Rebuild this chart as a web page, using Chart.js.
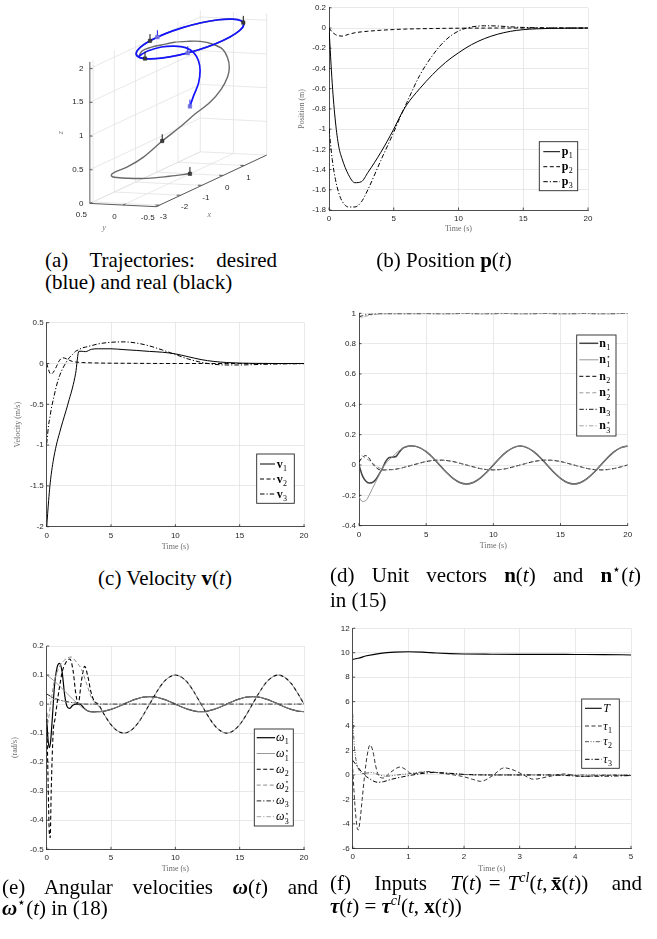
<!DOCTYPE html>
<html><head><meta charset="utf-8"><title>Trajectory results</title>
<script src="https://cdn.jsdelivr.net/npm/chart.js@4.4.1/dist/chart.umd.min.js"></script>
<style>
html,body{margin:0;padding:0;background:#fff}
body{position:relative;width:657px;height:939px;overflow:hidden}
canvas{position:absolute;display:block}
.cap{position:absolute;font-family:"Liberation Serif","Times New Roman",serif;font-size:21px;line-height:22px;color:#000;white-space:nowrap}
.just{text-align:justify;text-align-last:justify;white-space:normal}
.cap sup{font-size:14px;line-height:0;vertical-align:8px}
</style></head>
<body>
<canvas id="ca" width="300" height="245" style="left:0;top:0"></canvas>
<canvas id="cb" width="320" height="240" style="left:280px;top:0"></canvas>
<canvas id="cc" width="320" height="260" style="left:0;top:300px"></canvas>
<canvas id="cd" width="327" height="260" style="left:330px;top:300px"></canvas>
<canvas id="ce" width="320" height="260" style="left:0;top:620px"></canvas>
<canvas id="cf" width="327" height="270" style="left:330px;top:610px"></canvas>

<div class="cap just" style="left:45px;top:249px;width:232px">(a) Trajectories: desired</div>
<div class="cap" style="left:45px;top:271px">(blue) and real (black)</div>
<div class="cap" style="left:344px;top:249px;width:200px;text-align:center">(b) Position <b>p</b>(<i>t</i>)</div>
<div class="cap" style="left:65px;top:567px;width:200px;text-align:center">(c) Velocity <b>v</b>(<i>t</i>)</div>
<div class="cap just" style="left:330px;top:564px;width:311px">(d) Unit vectors <b>n</b>(<i>t</i>) and <b>n</b><sup>⋆</sup>(<i>t</i>)</div>
<div class="cap" style="left:330px;top:589px">in (15)</div>
<div class="cap just" style="left:2px;top:876px;width:316px">(e) Angular velocities <b><i>ω</i></b>(<i>t</i>) and</div>
<div class="cap" style="left:2px;top:897px"><b><i>ω</i></b><sup>⋆</sup>(<i>t</i>) in (18)</div>
<div class="cap just" style="left:330px;top:872px;width:312px">(f) Inputs <i>T</i>(<i>t</i>)&#8196;=&#8196;<i>T</i><sup><i>cl</i></sup>(<i>t</i>,&#8198;<b>x̄</b>(<i>t</i>)) and</div>
<div class="cap" style="left:330px;top:895px"><b><i>τ</i></b>(<i>t</i>) = <b><i>τ</i></b><sup><i>cl</i></sup>(<i>t</i>, <b>x</b>(<i>t</i>))</div>

<script>
// ================= DATA =================
// (a) 3-D trajectories
const xTicks3 = [-3, -2, -1, 0, 1];
const yTicks3 = [0.5, 0, -0.5];
const zTicks3 = [0, 0.5, 1, 1.5, 2];
const xLim3 = [-3.15, 2.05], yLim3 = [-0.5, 0.5], zLim3 = [0, 2.1];
const realX = [0,-0.81,-1.72,-2.47,-2.99,-3.08,-3.09,-2.79,-2.5,-1.93,-1.45,-0.84,-0.15,0.53,1.15,1.54,1.77,1.85,1.71,1.42,1.12,0.67,0.06,-0.55,-1.32,-1.9,-2,-1.88,-1.53,-1,-0.35,0.35,1,1.53,1.88,2,1.88,1.53,1,0.35,-0.35,-1,-1.53,-1.88,-2];
const realY = [0,0.05,0.1,0.15,0.18,0.2,0.15,0.05,-0.1,-0.2,-0.3,-0.35,-0.35,-0.3,-0.2,-0.1,0,0.1,0.2,0.3,0.4,0.45,0.45,0.4,0.3,0.15,0,-0.17,-0.32,-0.43,-0.49,-0.49,-0.43,-0.32,-0.17,0,0.17,0.32,0.43,0.49,0.49,0.43,0.32,0.17,0];
const realZ = [0,0.08,0.18,0.29,0.38,0.42,0.47,0.51,0.62,0.78,0.91,1.03,1.1,1.19,1.28,1.36,1.46,1.57,1.66,1.74,1.78,1.83,1.88,1.94,2,2,2,2,2,2,2,2,2,2,2,2,2,2,2,2,2,2,2,2,2];
const desX = [0,0.17,0.56,0.79,0.87,0.8,0.73,0.51,0.06,-0.71,-1.48,-1.88,-2,-1.88,-1.53,-1,-0.35,0.35,1,1.53,1.88,2,1.88,1.53,1,0.35,-0.35,-1,-1.53,-1.88,-2];
const desY = [0,0,0.05,0.1,0.15,0.2,0.3,0.4,0.45,0.4,0.25,0.17,0,-0.17,-0.32,-0.43,-0.49,-0.49,-0.43,-0.32,-0.17,0,0.17,0.32,0.43,0.49,0.49,0.43,0.32,0.17,0];
const desZ = [1,1.13,1.26,1.41,1.54,1.67,1.75,1.8,1.85,1.91,1.98,2,2,2,2,2,2,2,2,2,2,2,2,2,2,2,2,2,2,2,2];
const realMarkX = [0,-1.93,-0.35,1.73,-1.99], realMarkY = [0,-0.2,0.49,-0.25,0.04], realMarkZ = [0,0.78,2,2,2];
const desMarkX = [0,0.03,-1.29], desMarkY = [0,0.5,-0.38], desMarkZ = [1,2,2];

// common time ticks
const timeTicks20 = [0, 5, 10, 15, 20];
const timeTicks5 = [0, 1, 2, 3, 4, 5];

// (b) position
const tB = [0,0.25,0.5,0.75,1,1.5,2,2.5,3,4,5,5.5,6,7,8,9,10,11,12,13,14,15,16,17,18,19,20];
const p1 = [0,-0.55,-0.93,-1.17,-1.29,-1.45,-1.53,-1.52,-1.43,-1.23,-1.0,-0.87,-0.76,-0.6,-0.46,-0.34,-0.245,-0.165,-0.105,-0.062,-0.033,-0.016,-0.008,-0.004,-0.002,-0.001,0];
const p2 = [0,-0.04,-0.065,-0.077,-0.08,-0.063,-0.047,-0.038,-0.032,-0.022,-0.015,-0.012,-0.01,-0.007,-0.005,-0.003,-0.002,-0.001,-0.001,0,0,0,0,0,0,0,0];
const p3 = [-1.0,-1.3,-1.5,-1.63,-1.71,-1.77,-1.77,-1.72,-1.6,-1.31,-1.03,-0.88,-0.74,-0.47,-0.27,-0.12,-0.03,0.01,0.022,0.02,0.012,0.006,0.003,0.001,0,0,0];
const yTicksB = [-1.8,-1.6,-1.4,-1.2,-1,-0.8,-0.6,-0.4,-0.2,0,0.2];

// (c) velocity
const tC = [0,0.15,0.25,0.35,0.5,0.75,1,1.25,1.5,1.75,2,2.25,2.5,2.75,3,3.5,4,5,6,7,8,9,10,11,12,13,14,15,16,18,20];
const v1 = [-2,-1.68,-1.5,-1.36,-1.2,-1.0,-0.85,-0.71,-0.58,-0.44,-0.3,-0.12,0.15,0.15,0.145,0.175,0.18,0.18,0.17,0.16,0.148,0.138,0.118,0.083,0.048,0.025,0.012,0.005,0.002,0,0];
const v2 = [0,-0.08,-0.12,-0.13,-0.11,-0.04,0.04,0.07,0.06,0.04,0.025,0.018,0.014,0.012,0.01,0.008,0.006,0.004,0.003,0.002,0.001,0,0,0,0,0,0,0,0,0,0];
const v3 = [-0.98,-0.75,-0.66,-0.56,-0.45,-0.28,-0.15,-0.06,0.01,0.07,0.11,0.15,0.17,0.19,0.2,0.22,0.24,0.26,0.265,0.25,0.215,0.165,0.11,0.055,0.015,-0.01,-0.018,-0.018,-0.014,-0.006,-0.002];
const yTicksC = [-2,-1.5,-1,-0.5,0,0.5];

// (d) unit vectors
const tD = [0,0.25,0.5,0.75,1,1.25,1.5,1.75,2,2.25,2.5,2.75,3,3.25,3.5,3.75,4,4.5,5,5.5,6,6.5,7,7.5,8,8.5,9,9.5,10,10.5,11,11.5,12,12.5,13,13.5,14,14.5,15,15.5,16,16.5,17,17.5,18,18.5,19,19.5,20];
const n1 = [0,-0.07,-0.105,-0.118,-0.115,-0.095,-0.06,-0.02,0.025,0.05,0.052,0.056,0.085,0.11,0.12,0.125,0.125,0.115,0.088,0.048,0,-0.048,-0.088,-0.115,-0.125,-0.115,-0.088,-0.048,0,0.048,0.088,0.115,0.125,0.115,0.088,0.048,0,-0.048,-0.088,-0.115,-0.125,-0.115,-0.088,-0.048,0,0.048,0.088,0.115,0.125];
const n1s = [-0.21,-0.24,-0.235,-0.2,-0.155,-0.11,-0.065,-0.02,0.01,0.035,0.055,0.078,0.095,0.11,0.12,0.124,0.125,0.115,0.088,0.048,0,-0.048,-0.088,-0.115,-0.125,-0.115,-0.088,-0.048,0,0.048,0.088,0.115,0.125,0.115,0.088,0.048,0,-0.048,-0.088,-0.115,-0.125,-0.115,-0.088,-0.048,0,0.048,0.088,0.115,0.125];
const n2 = [0.02,0.05,0.062,0.045,0.01,-0.015,-0.03,-0.033,-0.032,-0.031,-0.03,-0.027,-0.023,-0.018,-0.012,-0.006,0,0.012,0.023,0.03,0.032,0.03,0.023,0.012,0,-0.012,-0.023,-0.03,-0.032,-0.03,-0.023,-0.012,0,0.012,0.023,0.03,0.032,0.03,0.023,0.012,0,-0.012,-0.023,-0.03,-0.032,-0.03,-0.023,-0.012,0];
const n2s = [0.075,0.06,0.045,0.03,0.012,-0.005,-0.018,-0.027,-0.032,-0.031,-0.03,-0.027,-0.023,-0.018,-0.012,-0.006,0,0.012,0.023,0.03,0.032,0.03,0.023,0.012,0,-0.012,-0.023,-0.03,-0.032,-0.03,-0.023,-0.012,0,0.012,0.023,0.03,0.032,0.03,0.023,0.012,0,-0.012,-0.023,-0.03,-0.032,-0.03,-0.023,-0.012,0];
const n3 = [0.975,0.984,0.99,0.993,0.995,0.996,0.997,0.998,0.998,0.998,0.998,0.998,0.998,0.998,0.998,0.998,0.998,0.998,0.999,0.998,0.997,0.997,0.998,0.999,0.999,0.998,0.997,0.997,0.998,0.999,0.999,0.998,0.997,0.997,0.998,0.999,0.999,0.998,0.997,0.997,0.998,0.999,0.999,0.998,0.997,0.997,0.998,0.999,0.999];
const n3s = [0.963,0.972,0.98,0.986,0.99,0.993,0.995,0.996,0.997,0.997,0.997,0.997,0.997,0.997,0.997,0.997,0.997,0.997,0.998,0.997,0.996,0.996,0.997,0.998,0.998,0.997,0.996,0.996,0.997,0.998,0.998,0.997,0.996,0.996,0.997,0.998,0.998,0.997,0.996,0.996,0.997,0.998,0.998,0.997,0.996,0.996,0.997,0.998,0.998];
const yTicksD = [-0.4,-0.2,0,0.2,0.4,0.6,0.8,1];

// (e) angular velocities (early transients + common late part)
const tLate = [4.5,5,5.5,6,6.5,7,7.5,8,8.5,9,9.5,10,10.5,11,11.5,12,12.5,13,13.5,14,14.5,15,15.5,16,16.5,17,17.5,18,18.5,19,19.5,20];
const w1Late = [-0.024,-0.018,-0.01,0,0.01,0.018,0.024,0.026,0.024,0.018,0.01,0,-0.01,-0.018,-0.024,-0.026,-0.024,-0.018,-0.01,0,0.01,0.018,0.024,0.026,0.024,0.018,0.01,0,-0.01,-0.018,-0.024,-0.026];
const w2Late = [-0.038,-0.071,-0.092,-0.1,-0.092,-0.071,-0.038,0,0.038,0.071,0.092,0.1,0.092,0.071,0.038,0,-0.038,-0.071,-0.092,-0.1,-0.092,-0.071,-0.038,0,0.038,0.071,0.092,0.1,0.092,0.071,0.038,0];
const w3Late = [0,0,0,0,0,0,0,0,0,0,0,0,0,0,0,0,0,0,0,0,0,0,0,0,0,0,0,0,0,0,0,0];
const tW1 = [0,0.1,0.2,0.3,0.45,0.6,0.8,1.0,1.2,1.4,1.6,1.8,2.0,2.3,2.6,2.9,3.2,3.6,4];
const w1 = [-0.05,-0.12,-0.15,-0.13,-0.04,0.06,0.125,0.14,0.11,0.03,-0.01,-0.015,-0.005,0,0,-0.014,-0.024,-0.027,-0.026];
const tW1s = [0,0.5,1,1.5,2,2.4,2.8,3.2,3.6,4];
const w1s = [0.1,0.083,0.062,0.04,0.018,0.002,-0.013,-0.023,-0.027,-0.026];
const tW2 = [0,0.1,0.2,0.27,0.35,0.5,0.65,0.8,1.0,1.2,1.45,1.8,2.05,2.25,2.45,2.7,2.95,3.2,3.45,3.7,4];
const w2 = [-0.03,-0.25,-0.44,-0.46,-0.3,-0.1,-0.05,0,0.06,0.11,0.14,0.155,0.115,0.04,0,0.08,0.13,0.095,0.04,0.01,0];
const tW2s = [0,0.15,0.3,0.6,0.9,1.3,1.9,2.3,2.7,3.1,3.5,4];
const w2s = [-0.08,-0.05,0,0.08,0.12,0.148,0.162,0.145,0.12,0.07,0.02,-0.005];
const tW3 = [0,0.5,1,1.5,2,2.5,3,4];
const w3 = [0.035,0.022,0.014,0.009,0.005,0.002,0,0];
const w3s = [0.02,0.017,0.013,0.009,0.005,0.002,0,0];
const yTicksE = [-0.5,-0.4,-0.3,-0.2,-0.1,0,0.1,0.2];

// (f) inputs
const tT = [0,0.1,0.25,0.5,0.75,1,1.25,1.5,1.75,2,2.5,3,3.5,4,4.5,5];
const thrust = [9.45,9.55,9.75,9.95,10.05,10.08,10.05,9.98,9.93,9.9,9.88,9.87,9.87,9.86,9.85,9.82];
const tTau1 = [0,0.04,0.08,0.1,0.13,0.17,0.21,0.26,0.31,0.36,0.41,0.46,0.55,0.65,0.75,0.85,0.95,1.05,1.2,1.35,1.5,1.75,2.0,2.15,2.3,2.5,2.72,2.9,3.05,3.25,3.5,3.8,4.1,4.4,4.7,5.0];
const tau1 = [0.5,-2.5,-4.3,-4.5,-3.8,-2.0,-0.2,1.6,2.45,2.0,0.8,0,-0.25,0.1,0.45,0.65,0.45,0.12,0.15,0.28,0.2,0.05,-0.15,-0.35,-0.52,-0.1,0.58,0.38,0.05,-0.35,-0.15,0.08,-0.12,-0.06,-0.02,-0.05];
const tTau2 = [0,0.02,0.05,0.08,0.12,0.17,0.25,0.33,0.45,0.6,0.8,1.0,1.3,1.5,1.8,2.2,3,4,5];
const tau2 = [5.0,3.0,1.5,0.8,0.35,0.1,0.15,0.2,0.05,-0.1,0,0.1,0.25,0.2,0.1,0,0,0,0];
const tTau3 = [0,0.1,0.2,0.3,0.45,0.55,0.7,0.9,1.05,1.3,1.45,1.7,2,2.5,3.5,4.2,4.5,5];
const tau3 = [1.2,0.6,0.05,-0.3,-0.6,-0.55,-0.35,-0.15,-0.02,0.15,0.2,0.15,0.05,0,0,-0.1,-0.1,-0.05];
const yTicksF = [-6,-4,-2,0,2,4,6,8,10,12];

// ================= STYLE HELPERS =================
const FONT_T = '"Liberation Sans", Arial, Helvetica, sans-serif';
const FONT_S = '"Liberation Serif", "Times New Roman", serif';
const DASH = [4, 2.5], DASHDOT = [4.5, 2, 1.2, 2];
const B12 = 'bold 12px ' + FONT_S, I12 = 'italic 12px ' + FONT_S, S8 = '8px ' + FONT_S, ST = '7px "DejaVu Sans", sans-serif';
const sub = (b, f, n) => [{t: b, f}, {t: n, f: S8, dy: 3}];
const star = (b, f, n) => [{t: b, f}, {t: n, f: S8, dy: 3.5, sup: '⋆', sf: ST, sdy: -4.5}];
const fmt = v => String(Math.round(v * 100) / 100);
const pts = (t, v) => t.map((x, i) => ({x, y: v[i]}));

function drawMath(ctx, x, y, parts) {
  let cx = x;
  parts.forEach(p => {
    ctx.font = p.f;
    const w1 = ctx.measureText(p.t).width;
    ctx.fillText(p.t, cx, y + (p.dy || 0));
    let w = w1;
    if (p.sup) { ctx.font = p.sf; const w2 = ctx.measureText(p.sup).width; ctx.fillText(p.sup, cx, y + p.sdy); w = Math.max(w1, w2); }
    cx += w + 0.3;
  });
}

function make2D(id, o) {
  const N = o.lines.length;
  const ds = o.lines.map((L, i) => ({
    data: pts(L.t, L.v), borderColor: L.c, borderWidth: L.w, borderDash: L.d || [], borderDashOffset: L.off || 0,
    pointRadius: 0, fill: false, cubicInterpolationMode: 'monotone', order: N - i
  }));
  const tickPlugin = { id: 'inTicks', afterDraw(chart) {
    const {ctx, chartArea: a, scales: {x, y}} = chart;
    ctx.save(); ctx.strokeStyle = '#262626'; ctx.lineWidth = 0.8; ctx.setLineDash([]); ctx.beginPath();
    x.ticks.forEach(t => { const px = x.getPixelForValue(t.value); ctx.moveTo(px, a.bottom); ctx.lineTo(px, a.bottom - 2.5); });
    y.ticks.forEach(t => { const py = y.getPixelForValue(t.value); ctx.moveTo(a.left, py); ctx.lineTo(a.left + 2.5, py); });
    ctx.stroke(); ctx.restore();
  }};
  const legendPlugin = { id: 'mLegend', afterDraw(chart) {
    const ctx = chart.ctx, g = o.legend;
    ctx.save();
    ctx.fillStyle = '#fff'; ctx.fillRect(g.box[0], g.box[1], g.box[2] - g.box[0], g.box[3] - g.box[1]);
    ctx.strokeStyle = '#262626'; ctx.lineWidth = 0.9; ctx.setLineDash([]);
    ctx.strokeRect(g.box[0], g.box[1], g.box[2] - g.box[0], g.box[3] - g.box[1]);
    o.lines.forEach((L, k) => {
      const y = g.rows[k];
      ctx.strokeStyle = L.c; ctx.lineWidth = L.w; ctx.setLineDash(L.d || []);
      ctx.beginPath(); ctx.moveTo(g.lx[0], y); ctx.lineTo(g.lx[1], y); ctx.stroke();
      ctx.setLineDash([]); ctx.fillStyle = '#000'; ctx.textBaseline = 'alphabetic'; ctx.textAlign = 'left';
      drawMath(ctx, g.tx, y + 3.5, L.label);
    });
    ctx.restore();
  }};
  const axisCommon = {
    grid: {color: '#e3e3e3', lineWidth: 0.8, drawTicks: false},
    border: {display: true, color: '#262626', width: 0.8}
  };
  return new Chart(document.getElementById(id), {
    type: 'line',
    data: {datasets: ds},
    options: {
      responsive: false, animation: false, events: [],
      layout: {padding: {left: 0, top: o.pt, right: o.pr, bottom: 0}},
      plugins: {legend: {display: false}, tooltip: {enabled: false}},
      scales: {
        x: Object.assign({type: 'linear', min: o.xr[0], max: o.xr[1],
          afterBuildTicks: s => { s.ticks = o.xt.map(v => ({value: v})); },
          afterFit: s => { s.height = o.hX; },
          ticks: {font: {family: FONT_T, size: 8}, color: '#262626', padding: 4, maxRotation: 0, autoSkip: false, callback: fmt},
          title: {display: true, text: 'Time (s)', font: {family: FONT_S, size: 8}, color: '#6b6b6b', padding: {top: 0, bottom: o.xtp}}
        }, axisCommon),
        y: Object.assign({type: 'linear', min: o.yr[0], max: o.yr[1],
          afterBuildTicks: s => { s.ticks = o.yt.map(v => ({value: v})); },
          afterFit: s => { s.width = o.wY; },
          ticks: {font: {family: FONT_T, size: 8}, color: '#262626', padding: 3, autoSkip: false, callback: fmt},
          title: {display: !!o.ytitle, text: o.ytitle || '', font: {family: FONT_S, size: 8}, color: '#6b6b6b', padding: {top: o.ytp || 0, bottom: 0}}
        }, axisCommon)
      }
    },
    plugins: [tickPlugin, legendPlugin]
  });
}

// ================= PANEL (a) =================
const VIEW = {ox: 88, oy: 206.5, ex: [21.9, -10.3], ey: [-68.4, -3.4], ez: [0, -70]};
function proj(x, y, z) {
  const dx = x - xLim3[0], dy = y - yLim3[1], dz = z - zLim3[0];
  return {x: VIEW.ox + VIEW.ex[0] * dx + VIEW.ey[0] * dy + VIEW.ez[0] * dz,
          y: VIEW.oy + VIEW.ex[1] * dx + VIEW.ey[1] * dy + VIEW.ez[1] * dz};
}
(function () {
  const [x0, x1] = xLim3, [y0, y1] = yLim3, [z0, z1] = zLim3;
  const segData = segs => { const out = []; segs.forEach(([a, b]) => { const p = proj(...a), q = proj(...b); out.push(p, q, {x: q.x, y: null}); }); return out; };
  const grid = [];
  xTicks3.forEach(x => { grid.push([[x, y1, z0], [x, y1, z1]]); grid.push([[x, y1, z0], [x, y0, z0]]); });
  zTicks3.forEach(z => { grid.push([[x0, y1, z], [x1, y1, z]]); grid.push([[x1, y1, z], [x1, y0, z]]); });
  yTicks3.forEach(y => { grid.push([[x1, y, z0], [x1, y, z1]]); grid.push([[x0, y, z0], [x1, y, z0]]); });
  const axes = [[[x0, y1, z0], [x0, y1, z1]], [[x0, y1, z0], [x0, y0, z0]], [[x0, y0, z0], [x1, y0, z0]]];
  zTicks3.forEach(z => axes.push([[x0, y1, z], [x0, y1 - 0.04, z]]));
  yTicks3.forEach(y => axes.push([[x0, y, z0], [x0 + 0.12, y, z0]]));
  xTicks3.forEach(x => axes.push([[x, y0, z0], [x, y0 + 0.06, z0]]));
  const sticks = (X, Y, Z) => X.map((x, i) => [[x, Y[i], Z[i]], [x, Y[i], Z[i] + 0.1]]);
  const markPts = (X, Y, Z) => X.map((x, i) => proj(x, Y[i], Z[i]));
  const line = (X, Y, Z) => X.map((x, i) => proj(x, Y[i], Z[i]));

  const labels3 = { id: 'labels3', afterDraw(chart) {
    const ctx = chart.ctx, sx = chart.scales.x, sy = chart.scales.y;
    const P = (x, y, z) => { const p = proj(x, y, z); return [sx.getPixelForValue(p.x), sy.getPixelForValue(p.y)]; };
    ctx.save();
    ctx.font = '8px ' + FONT_T; ctx.fillStyle = '#262626'; ctx.textBaseline = 'middle';
    ctx.textAlign = 'right';
    zTicks3.forEach(z => { const [px, py] = P(x0, y1, z); ctx.fillText(fmt(z), px - 6.5, py); });
    ctx.textAlign = 'center';
    yTicks3.forEach(y => { const [px, py] = P(x0 - 0.4, y, z0); ctx.fillText(fmt(y), px, py + 7.5); });
    xTicks3.forEach(x => { const [px, py] = P(x, y0, z0); ctx.fillText(fmt(x), px + 4, py + 12); });
    ctx.font = 'italic 8px ' + FONT_S; ctx.fillStyle = '#777';
    let [px, py] = P(x0, y1, 1.05); ctx.save(); ctx.translate(px - 28.7, py); ctx.rotate(-Math.PI / 2); ctx.fillText('z', 0, 0); ctx.restore();
    [px, py] = P(x0, 0, z0); ctx.fillText('y', px - 19, py + 22.5);
    [px, py] = P(-1.5, y0, z0); ctx.fillText('x', px + 18, py + 24.4);
    ctx.restore();
  }};

  const base = {showLine: true, pointRadius: 0, spanGaps: false, clip: false, fill: false};
  new Chart(document.getElementById('ca'), {
    type: 'scatter',
    data: {datasets: [
      Object.assign({}, base, {data: markPts(desMarkX, desMarkY, desMarkZ), showLine: false, pointStyle: 'rect', pointRadius: 2.6, backgroundColor: '#6d6de0', borderColor: '#6d6de0', borderWidth: 0.5, order: 0}),
      Object.assign({}, base, {data: markPts(realMarkX, realMarkY, realMarkZ), showLine: false, pointStyle: 'rect', pointRadius: 2.4, backgroundColor: '#3a3a3a', borderColor: '#222', borderWidth: 0.5, order: 1}),
      Object.assign({}, base, {data: segData(sticks(desMarkX, desMarkY, desMarkZ)), borderColor: '#2020ff', borderWidth: 1, order: 2}),
      Object.assign({}, base, {data: segData(sticks(realMarkX, realMarkY, realMarkZ)), borderColor: '#111', borderWidth: 1, order: 3}),
      Object.assign({}, base, {data: line(desX, desY, desZ), borderColor: '#1414ff', borderWidth: 1.7, tension: 0.35, order: 4}),
      Object.assign({}, base, {data: line(realX, realY, realZ), borderColor: '#6a6a6a', borderWidth: 1.4, tension: 0.35, order: 5}),
      Object.assign({}, base, {data: segData(axes), borderColor: '#5a5a5a', borderWidth: 1, order: 6}),
      Object.assign({}, base, {data: segData(grid), borderColor: '#e2e2e2', borderWidth: 0.8, order: 7})
    ]},
    options: {
      responsive: false, animation: false, events: [],
      layout: {padding: 0},
      plugins: {legend: {display: false}, tooltip: {enabled: false}},
      scales: {
        x: {type: 'linear', display: false, min: 0, max: 300},
        y: {type: 'linear', display: false, min: 0, max: 245, reverse: true}
      }
    },
    plugins: [labels3]
  });
})();

// ================= PANEL (b) =================
make2D('cb', {
  xr: [0, 20], xt: timeTicks20, yr: [-1.8, 0.2], yt: yTicksB,
  wY: 49, pt: 6.3, pr: 12, hX: 30, xtp: 5.9, ytitle: 'Position (m)', ytp: 16.9,
  lines: [
    {t: tB, v: p1, c: '#000', w: 1, label: sub('p', B12, '1')},
    {t: tB, v: p2, c: '#000', w: 1, d: DASH, label: sub('p', B12, '2')},
    {t: tB, v: p3, c: '#000', w: 1, d: DASHDOT, label: sub('p', B12, '3')}
  ],
  legend: {box: [259.3, 141.7, 297.7, 190.7], lx: [263.3, 280], tx: 281.7, rows: [151.7, 166.7, 181.7]}
});

// ================= PANEL (c) =================
make2D('cc', {
  xr: [0, 20], xt: timeTicks20, yr: [-2, 0.5], yt: yTicksC,
  wY: 46.7, pt: 22.7, pr: 16, hX: 33.3, xtp: 8.5, ytitle: 'Velocity (m/s)', ytp: 13.5,
  lines: [
    {t: tC, v: v1, c: '#000', w: 1, label: sub('v', B12, '1')},
    {t: tC, v: v2, c: '#000', w: 1, d: DASH, label: sub('v', B12, '2')},
    {t: tC, v: v3, c: '#000', w: 1, d: DASHDOT, label: sub('v', B12, '3')}
  ],
  legend: {box: [256.7, 154, 294.3, 203.3], lx: [260, 275], tx: 276.7, rows: [164, 179, 194]}
});

// ================= PANEL (d) =================
make2D('cd', {
  xr: [0, 20], xt: timeTicks20, yr: [-0.4, 1], yt: yTicksD,
  wY: 29, pt: 13.3, pr: 29.3, hX: 34.3, xtp: 9.5,
  lines: [
    {t: tD, v: n1, c: '#444', w: 1.5, label: sub('n', B12, '1')},
    {t: tD, v: n1s, c: '#8c8c8c', w: 0.9, label: star('n', B12, '1')},
    {t: tD, v: n2, c: '#000', w: 1, d: DASH, label: sub('n', B12, '2')},
    {t: tD, v: n2s, c: '#8c8c8c', w: 0.9, d: DASH, off: 3.2, label: star('n', B12, '2')},
    {t: tD, v: n3, c: '#444', w: 1.2, d: DASHDOT, label: sub('n', B12, '3')},
    {t: tD, v: n3s, c: '#9a9a9a', w: 0.9, d: DASHDOT, off: 4, label: star('n', B12, '3')}
  ],
  legend: {box: [246.7, 35, 286, 136], lx: [249.3, 268.3], tx: 269.3, rows: [43.3, 59.8, 76.3, 92.8, 109.3, 125.8]}
});

// ================= PANEL (e) =================
make2D('ce', {
  xr: [0, 20], xt: timeTicks20, yr: [-0.5, 0.2], yt: yTicksE,
  wY: 46.7, pt: 26, pr: 16, hX: 30.7, xtp: 5.9, ytitle: '(rad/s)', ytp: 10.2,
  lines: [
    {t: tW1.concat(tLate), v: w1.concat(w1Late), c: '#000', w: 1.2, label: sub('ω', I12, '1')},
    {t: tW1s.concat(tLate), v: w1s.concat(w1Late), c: '#8c8c8c', w: 0.9, label: star('ω', I12, '1')},
    {t: tW2.concat(tLate), v: w2.concat(w2Late), c: '#000', w: 1.1, d: DASH, label: sub('ω', I12, '2')},
    {t: tW2s.concat(tLate), v: w2s.concat(w2Late), c: '#8c8c8c', w: 1, d: DASH, off: 3.2, label: star('ω', I12, '2')},
    {t: tW3.concat(tLate), v: w3.concat(w3Late), c: '#222', w: 1, d: DASHDOT, label: sub('ω', I12, '3')},
    {t: tW3.concat(tLate), v: w3s.concat(w3Late), c: '#9a9a9a', w: 0.9, d: DASHDOT, off: 4, label: star('ω', I12, '3')}
  ],
  legend: {box: [254.3, 109, 293.3, 206], lx: [256.7, 275], tx: 276, rows: [117.7, 133.5, 149.3, 165.1, 180.9, 196.7]}
});

// ================= PANEL (f) =================
make2D('cf', {
  xr: [0, 5], xt: timeTicks5, yr: [-6, 12], yt: yTicksF,
  wY: 22.7, pt: 18.3, pr: 26, hX: 31.7, xtp: 5.9,
  lines: [
    {t: tT, v: thrust, c: '#000', w: 1.1, label: [{t: 'T', f: I12}]},
    {t: tTau1, v: tau1, c: '#333', w: 1, d: DASH, label: sub('τ', I12, '1')},
    {t: tTau2, v: tau2, c: '#555', w: 1, d: [4, 1.6, 1, 1.6, 1, 1.6], label: sub('τ', I12, '2')},
    {t: tTau3, v: tau3, c: '#000', w: 1, d: DASHDOT, label: sub('τ', I12, '3')}
  ],
  legend: {box: [251.7, 89, 289.3, 158.3], lx: [255, 271.7], tx: 273.3, rows: [98.3, 116, 131.7, 149.3]}
});
</script>
</body></html>
